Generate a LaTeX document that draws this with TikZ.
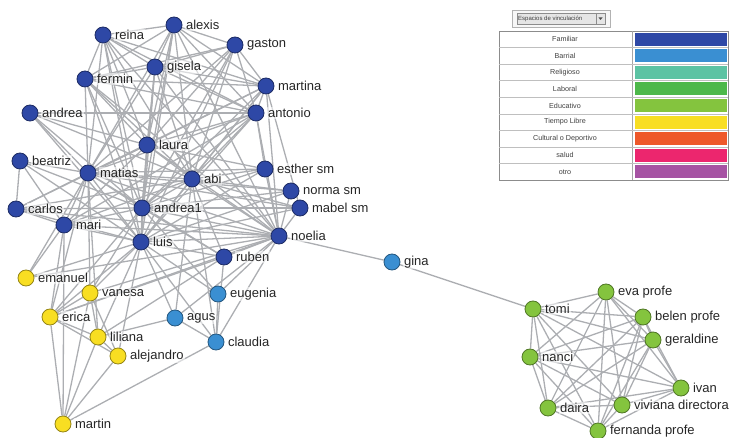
\documentclass[tikz,border=0pt]{standalone}
\usepackage{fontspec}
\setmainfont{Liberation Sans}
\usetikzlibrary{backgrounds}

\definecolor{familiar}{RGB}{46,72,166}
\definecolor{barrial}{RGB}{58,143,210}
\definecolor{religioso}{RGB}{92,195,163}
\definecolor{laboral}{RGB}{77,184,74}
\definecolor{educativo}{RGB}{132,196,62}
\definecolor{tiempolibre}{RGB}{248,222,34}
\definecolor{cultural}{RGB}{238,88,42}
\definecolor{salud}{RGB}{236,38,110}
\definecolor{otro}{RGB}{166,83,163}
\definecolor{edgegray}{RGB}{172,174,178}

\tikzset{
  person/.style={circle,draw=#1!60!black,fill=#1,line width=0.8pt,minimum size=16pt,inner sep=0pt},
  fam/.style={person=familiar},
  barr/.style={person=barrial},
  edu/.style={person=educativo},
  libre/.style={person=tiempolibre},
  lbl/.style={font=\fontsize{13}{14}\selectfont,text=black!85,fill=white,fill opacity=0.55,
    text opacity=1,inner sep=1pt,label distance=2.5pt},
  edge/.style={draw=edgegray,line width=1.3pt},
  legtext/.style={font=\fontsize{7.2}{8}\selectfont,text=black!75},
}

\begin{document}
\begin{tikzpicture}[x=1pt,y=-1pt]
\useasboundingbox (0,0) rectangle (731,438);
% Drawing nodes
% Familiar
\node[fam,label={[lbl]right:reina}] (reina) at (103,35) {};
\node[fam,label={[lbl]right:alexis}] (alexis) at (174,25) {};
\node[fam,label={[lbl]right:gaston}] (gaston) at (235,45) {};
\node[fam,label={[lbl]right:gisela}] (gisela) at (155,67) {};
\node[fam,label={[lbl]right:fermin}] (fermin) at (85,79) {};
\node[fam,label={[lbl]right:martina}] (martina) at (266,86) {};
\node[fam,label={[lbl]right:andrea}] (andrea) at (30,113) {};
\node[fam,label={[lbl]right:antonio}] (antonio) at (256,113) {};
\node[fam,label={[lbl]right:laura}] (laura) at (147,145) {};
\node[fam,label={[lbl]right:beatriz}] (beatriz) at (20,161) {};
\node[fam,label={[lbl]right:matias}] (matias) at (88,173) {};
\node[fam,label={[lbl]right:abi}] (abi) at (192,179) {};
\node[fam,label={[lbl]right:esther sm}] (esther) at (265,169) {};
\node[fam,label={[lbl]right:norma sm}] (norma) at (291,191) {};
\node[fam,label={[lbl]right:mabel sm}] (mabel) at (300,208) {};
\node[fam,label={[lbl]right:carlos}] (carlos) at (16,209) {};
\node[fam,label={[lbl]right:andrea1}] (andreaone) at (142,208) {};
\node[fam,label={[lbl]right:mari}] (mari) at (64,225) {};
\node[fam,label={[lbl]right:luis}] (luis) at (141,242) {};
\node[fam,label={[lbl]right:noelia}] (noelia) at (279,236) {};
\node[fam,label={[lbl]right:ruben}] (ruben) at (224,257) {};
% Barrial
\node[barr,label={[lbl]right:gina}] (gina) at (392,262) {};
\node[barr,label={[lbl]right:eugenia}] (eugenia) at (218,294) {};
\node[barr,label={[lbl]right:agus}] (agus) at (175,318) {};
\node[barr,label={[lbl]right:claudia}] (claudia) at (216,342) {};
% Tiempo libre
\node[libre,label={[lbl]right:emanuel}] (emanuel) at (26,278) {};
\node[libre,label={[lbl]right:vanesa}] (vanesa) at (90,293) {};
\node[libre,label={[lbl]right:erica}] (erica) at (50,317) {};
\node[libre,label={[lbl]right:liliana}] (liliana) at (98,337) {};
\node[libre,label={[lbl]right:alejandro}] (alejandro) at (118,356) {};
\node[libre,label={[lbl]right:martin}] (martin) at (63,424) {};
% Educativo
\node[edu,label={[lbl]right:tomi}] (tomi) at (533,309) {};
\node[edu,label={[lbl]right:eva profe}] (eva) at (606,292) {};
\node[edu,label={[lbl]right:belen profe}] (belen) at (643,317) {};
\node[edu,label={[lbl]right:geraldine}] (geraldine) at (653,340) {};
\node[edu,label={[lbl]right:nanci}] (nanci) at (530,357) {};
\node[edu,label={[lbl]right:ivan}] (ivan) at (681,388) {};
\node[edu,label={[lbl]right:daira}] (daira) at (548,408) {};
\node[edu,label={[lbl]right:viviana directora}] (viviana) at (622,405) {};
\node[edu,label={[lbl]right:fernanda profe}] (fernanda) at (598,431) {};
% Done with nodes; drawing edges
\begin{pgfonlayer}{background}
\foreach \a/\b in {reina/alexis,reina/gisela,reina/fermin,reina/laura,reina/matias,reina/abi,
  reina/andreaone,reina/antonio,reina/martina,reina/luis,reina/noelia,
  alexis/gaston,alexis/gisela,alexis/fermin,alexis/martina,alexis/antonio,alexis/laura,
  alexis/matias,alexis/abi,alexis/andreaone,alexis/luis,alexis/noelia,
  gaston/gisela,gaston/fermin,gaston/martina,gaston/antonio,gaston/laura,gaston/matias,
  gaston/abi,gaston/luis,gaston/andreaone,
  gisela/fermin,gisela/martina,gisela/antonio,gisela/laura,gisela/matias,gisela/abi,
  gisela/andreaone,gisela/luis,gisela/noelia,
  fermin/martina,fermin/laura,fermin/matias,fermin/abi,fermin/andreaone,fermin/luis,
  fermin/noelia,fermin/antonio,
  martina/antonio,martina/laura,martina/matias,martina/abi,martina/andreaone,martina/luis,
  martina/noelia,martina/mabel,
  andrea/antonio,andrea/laura,andrea/matias,andrea/abi,andrea/andreaone,andrea/luis,
  antonio/laura,antonio/matias,antonio/abi,antonio/andreaone,antonio/luis,antonio/noelia,
  antonio/esther,antonio/mari,
  laura/matias,laura/abi,laura/andreaone,laura/luis,laura/noelia,laura/esther,laura/carlos,laura/mari}
  \draw[edge] (\a) -- (\b);
\foreach \a/\b in {beatriz/carlos,beatriz/matias,beatriz/andreaone,beatriz/luis,beatriz/mari,
  matias/abi,matias/andreaone,matias/luis,matias/noelia,matias/esther,matias/norma,matias/mabel,
  matias/carlos,matias/mari,matias/ruben,matias/emanuel,matias/erica,matias/vanesa,matias/liliana,
  abi/esther,abi/norma,abi/mabel,abi/andreaone,abi/luis,abi/noelia,abi/carlos,abi/mari,
  abi/ruben,abi/claudia,abi/agus,
  esther/noelia,esther/andreaone,esther/luis,norma/noelia,norma/luis,norma/andreaone,
  mabel/noelia,mabel/andreaone,mabel/luis,
  carlos/mari,carlos/andreaone,carlos/luis,carlos/noelia,
  andreaone/luis,andreaone/noelia,andreaone/mari,andreaone/ruben,andreaone/erica,
  andreaone/vanesa,andreaone/eugenia,
  mari/luis,mari/emanuel,mari/erica,mari/martin,mari/noelia,
  luis/noelia,luis/ruben,luis/eugenia,luis/agus,luis/claudia,luis/vanesa,luis/erica,
  luis/liliana,luis/alejandro,luis/emanuel,
  noelia/ruben,noelia/gina,noelia/agus,noelia/claudia,noelia/eugenia,noelia/erica,
  noelia/emanuel,noelia/vanesa,
  ruben/erica,ruben/liliana,ruben/claudia,
  erica/vanesa,erica/liliana,erica/alejandro,erica/martin,vanesa/liliana,vanesa/alejandro,
  vanesa/martin,liliana/alejandro,liliana/martin,alejandro/martin,martin/claudia,
  liliana/agus,agus/claudia,eugenia/claudia,gina/tomi}
  \draw[edge] (\a) -- (\b);
% Educativo group, all linked
\foreach \a [count=\i] in {tomi,eva,belen,geraldine,nanci,ivan,daira,viviana,fernanda}
  \foreach \b [count=\j] in {tomi,eva,belen,geraldine,nanci,ivan,daira,viviana,fernanda}
    {\ifnum\j>\i \draw[edge] (\a) -- (\b);\fi}
\end{pgfonlayer}
% Done with edges; drawing legend
\draw[black!30,fill=black!3] (512,10) rectangle (610,27);
\draw[black!45,fill=black!10] (517,13) rectangle (605,24);
\node[legtext,font=\fontsize{6}{7}\selectfont,anchor=west,inner sep=0pt] (legtitle) at (518,18.5) {Espacios de vinculación};
\draw[black!45] (596,13) -- (596,24);
\fill[black!70] (598.5,17.5) -- (602.5,17.5) -- (600.5,20) -- cycle;
\draw[black!45,line width=0.8pt] (499,31) rectangle (728,180);
\draw[black!35] (632,31) -- (632,180);
\foreach \name/\col [count=\k] in {Familiar/familiar,Barrial/barrial,Religioso/religioso,
  Laboral/laboral,Educativo/educativo,Tiempo Libre/tiempolibre,Cultural o Deportivo/cultural,
  salud/salud,otro/otro}
{
  \pgfmathsetmacro{\ytop}{31+(\k-1)*16.56}
  \ifnum\k>1 \draw[black!25] (499,\ytop) -- (728,\ytop);\fi
  \node[legtext] (leg\k) at (565,\ytop+8.28) {\name};
  \fill[\col] (634.5,\ytop+1.8) rectangle (726.5,\ytop+14.8);
}
% Done with legend
\end{tikzpicture}
\end{document}
